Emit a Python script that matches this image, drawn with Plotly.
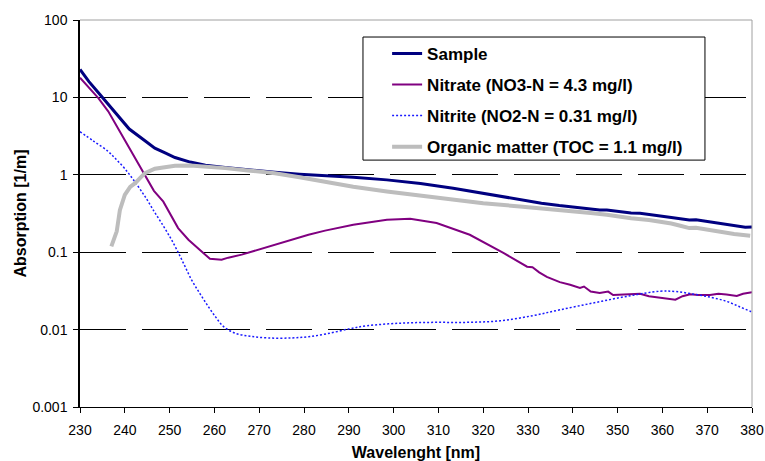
import plotly.graph_objects as go

# ---------------- data ----------------
wl_sample = [230, 232, 234.5, 237, 239, 241, 244.5, 246.7, 249, 251.2, 254.6, 258, 262.4, 268,
             273.5, 279, 284, 291, 298.5, 306, 313.3, 320, 328.2, 333, 337, 342, 346, 347.6,
             350, 353, 355, 357, 359.5, 362, 364, 366, 367.5, 370, 372, 374, 376, 378.5, 380]
abs_sample = [23, 16, 10.8, 7.3, 5.4, 3.9, 2.75, 2.21, 1.92, 1.67, 1.46, 1.33, 1.24, 1.15,
              1.08, 1.02, 0.99, 0.93, 0.86, 0.77, 0.67, 0.575, 0.475, 0.43, 0.40, 0.37, 0.35, 0.352,
              0.335, 0.32, 0.318, 0.305, 0.29, 0.28, 0.27, 0.26, 0.262, 0.25, 0.24, 0.232, 0.222, 0.21, 0.212]

wl_nitrate = [230, 232, 234.1, 236.3, 238.9, 240.5, 241.9, 244.1, 245, 246.5, 248.6, 250, 251.9,
              254.2, 257.2, 259, 261.6, 263.1, 266.1, 269.8, 273.5, 277.3, 281, 284.7, 291, 298.5,
              303.7, 309.6, 317, 324.5, 328.5, 329.8, 331, 332.5, 334.2, 337.1, 339.4, 341.6,
              342.5, 344, 346, 347.9, 349, 350.5, 353, 355, 357, 359.5, 362.9, 364.5, 366.2,
              368, 370.6, 372.5, 374.3, 376.6, 378, 380]
abs_nitrate = [18, 13.2, 9.8, 6.6, 3.6, 2.5, 1.81, 1.1, 0.9, 0.62, 0.45, 0.32, 0.205,
               0.145, 0.102, 0.082, 0.080, 0.085, 0.093, 0.108, 0.125, 0.148, 0.168, 0.19, 0.226, 0.263,
               0.27, 0.238, 0.168, 0.098, 0.072, 0.065, 0.064, 0.055, 0.048, 0.041, 0.038, 0.0345,
               0.036, 0.031, 0.0297, 0.031, 0.028, 0.0283, 0.029, 0.029, 0.027, 0.0257, 0.0244, 0.027, 0.0287,
               0.028, 0.028, 0.029, 0.0285, 0.0272, 0.029, 0.0305]

wl_nitrite = [230, 233, 236.3, 238, 240, 242, 244, 245, 246.5, 248.2, 250, 251.6, 253.2, 254.9,
              256.8, 258.6, 260.3, 262, 264.6, 268, 272, 277.3, 281, 285, 290, 294, 301.4,
              308.9, 316.3, 323.8, 331.2, 337.1, 344.6, 352.1, 359.5, 363, 367, 371, 374.3, 377,
              379.6, 380]
abs_nitrite = [3.6, 2.73, 2.0, 1.6, 1.2, 0.85, 0.58, 0.475, 0.34, 0.238, 0.16, 0.108, 0.07, 0.044,
               0.029, 0.020, 0.0145, 0.011, 0.009, 0.0082, 0.0078, 0.0078, 0.0081, 0.0088, 0.0102, 0.0112, 0.0121,
               0.0124, 0.0124, 0.013, 0.0152, 0.018, 0.0221, 0.0269, 0.0313, 0.031, 0.0287, 0.026, 0.0232, 0.020,
               0.0173, 0.017]

wl_organic = [237, 238.2, 238.9, 240, 241.2, 242.3, 243.5, 244.5, 246.7, 249, 251.2, 254.6, 258,
              262.4, 268, 273.5, 279, 284.7, 291, 298.5, 306, 313.3, 320, 328.2, 333, 339, 344,
              347.6, 350, 353, 357, 359.5, 362, 364, 366, 367.5, 370, 372, 376, 379.6]
abs_organic = [0.119, 0.186, 0.35, 0.55, 0.70, 0.78, 0.92, 1.05, 1.2, 1.27, 1.31, 1.32, 1.28,
               1.22, 1.13, 1.05, 0.93, 0.81, 0.70, 0.61, 0.54, 0.475, 0.43, 0.39, 0.37, 0.345, 0.32,
               0.305, 0.29, 0.275, 0.26, 0.25, 0.235, 0.22, 0.205, 0.207, 0.195, 0.185, 0.172, 0.163]

names = ["Sample", "Nitrate (NO3-N = 4.3 mg/l)", "Nitrite (NO2-N = 0.31 mg/l)",
         "Organic matter (TOC = 1.1 mg/l)"]

x_ticks = list(range(230, 381, 10))
y_tick_vals = [0.001, 0.01, 0.1, 1, 10, 100]
y_tick_text = ["0.001", "0.01", "0.1", "1", "10", "100"]

x_title = "Wavelenght [nm]"
y_title = "Absorption [1/m]"

# ---------------- figure ----------------
fig = go.Figure()
fig.add_trace(go.Scatter(x=wl_sample, y=abs_sample, name=names[0], mode="lines",
                         line=dict(color="#000080", width=3), legendgroup="g1"))
fig.add_trace(go.Scatter(x=wl_nitrate, y=abs_nitrate, name=names[1], mode="lines",
                         line=dict(color="#800080", width=2), legendgroup="g2"))
fig.add_trace(go.Scatter(x=wl_nitrite, y=abs_nitrite, name=names[2], mode="lines",
                         line=dict(color="#1a1aff", width=1.5, dash="2px,2px", shape="spline"),
                         legendgroup="g3"))
fig.add_trace(go.Scatter(x=wl_organic, y=abs_organic, name=names[3], mode="lines",
                         line=dict(color="#bdbdbd", width=4), legendgroup="g4"))

font_family = "Arial, 'Liberation Sans', sans-serif"

fig.update_layout(
    width=765, height=461,
    margin=dict(l=80, r=13, t=20, b=54, autoexpand=False),
    paper_bgcolor="white", plot_bgcolor="white",
    font=dict(family=font_family, size=14, color="black"),
    showlegend=True,
    legend=dict(x=0.457, y=0.959, xanchor="left", yanchor="top",
                bgcolor="rgba(0,0,0,0)", borderwidth=0,
                font=dict(family=font_family, size=17, color="black", weight="bold"),
                traceorder="grouped", tracegroupgap=6),
    xaxis=dict(range=[230, 380], tickvals=x_ticks, ticks="outside", ticklen=5,
               tickcolor="black", showline=True, linecolor="black", linewidth=1,
               showgrid=False, zeroline=False, automargin=False,
               tickfont=dict(size=14), ticklabelstandoff=5,
               title=dict(text=x_title, font=dict(size=16, weight="bold"), standoff=11)),
    yaxis=dict(type="log", range=[-3, 2], tickvals=y_tick_vals, ticktext=y_tick_text,
               ticks="outside", ticklen=5, tickcolor="black",
               showline=True, linecolor="black", linewidth=1.5,
               showgrid=True, gridcolor="black", gridwidth=1, griddash="46px,16px",
               zeroline=False, automargin=False, tickfont=dict(size=14), ticklabelstandoff=3,
               title=dict(text=y_title, font=dict(size=16, weight="bold"), standoff=2)),
    shapes=[
        # top and right frame lines
        dict(type="line", xref="paper", yref="paper", x0=0, x1=1, y0=1, y1=1,
             line=dict(color="#a0a0a0", width=1)),
        dict(type="line", xref="paper", yref="paper", x0=1, x1=1, y0=0, y1=1,
             line=dict(color="#a0a0a0", width=1)),
        # legend box
        dict(type="rect", xref="paper", yref="paper", x0=0.4211, x1=0.930, y0=0.638, y1=0.956,
             fillcolor="white", line=dict(color="black", width=1), layer="above"),
    ],
)

fig.write_html("out.html", config={"displayModeBar": False},
               post_script="document.body.style.margin='0';")
